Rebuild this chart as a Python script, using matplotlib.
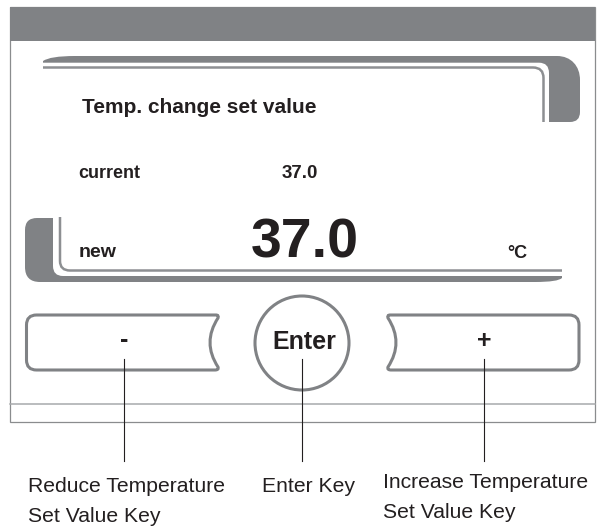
import matplotlib.pyplot as plt
from matplotlib.path import Path
from matplotlib.patches import PathPatch, Rectangle, Circle

# texts shown on the display
title_text = "Temp. change set value"
current_label = "current"
current_value = "37.0"
new_label = "new"
new_value = "37.0"
unit_text = "°C"
key_texts = ["-", "Enter", "+"]

# callout labels under the keys (one entry per line)
key_x = [124, 302, 484]
callout_lines = [
    ["Reduce Temperature", "Set Value Key"],
    ["Enter Key"],
    ["Increase Temperature", "Set Value Key"],
]
callout_x = [28, 262, 383]
callout_base = [492, 492, 488]

dark = "#231f20"
gray = "#808285"
light = "#a7a9ac"
bold_font = ["Liberation Sans", "DejaVu Sans"]
label_font = ["Liberation Sans", "DejaVu Sans"]

M, L, Q, C, Z = Path.MOVETO, Path.LINETO, Path.CURVE3, Path.CURVE4, Path.CLOSEPOLY


def shape(ax, pts, codes, **kw):
    ax.add_patch(PathPatch(Path(pts, codes), **kw))


fig = plt.figure(figsize=(5.97, 5.27), dpi=100)
ax = fig.add_axes([0, 0, 1, 1])
ax.set_xlim(0, 597)
ax.set_ylim(527, 0)
ax.axis("off")

# housing
ax.add_patch(Rectangle((10, 7), 585, 415, fill=False, ec="#8a8c8e", lw=0.9))
ax.add_patch(Rectangle((10, 7), 585, 34, fc=gray, ec="none"))
ax.plot([10, 595], [404, 404], color=light, lw=1.1)

# upper bracket of the display
shape(ax,
      [(43, 62.7), (43, 61), (50, 56), (75, 56), (557, 56),
       (571, 56), (580, 66), (580, 80), (580, 112), (580, 122), (570, 122),
       (549, 122), (549, 73), (549, 62.7), (539, 62.7), (43, 62.7), (43, 62.7)],
      [M, L, Q, Q, L, C, C, C, L, Q, Q, L, L, Q, Q, L, Z],
      fc=gray, ec="none")
shape(ax,
      [(43, 67.5), (533, 67.5), (543.5, 67.5), (543.5, 78), (543.5, 122)],
      [M, L, Q, Q, L], fill=False, ec="#8d8f92", lw=1.8)

# lower bracket of the display
shape(ax,
      [(25, 230), (25, 218), (37, 218), (53, 218), (53, 266), (53, 276), (63, 276),
       (562, 276), (562, 278), (558, 282), (535, 282), (40, 282), (25, 282), (25, 267),
       (25, 230), (25, 230)],
      [M, Q, Q, L, L, Q, Q, L, L, Q, Q, L, Q, Q, L, Z],
      fc=gray, ec="none")
shape(ax,
      [(60, 217), (60, 261), (60, 270.5), (70, 270.5), (562, 270.5)],
      [M, L, Q, Q, L], fill=False, ec="#8d8f92", lw=1.8)

# keys
shape(ax,
      [(36.5, 315), (216, 315), (219, 315), (218, 318), (202, 342.5), (218, 367),
       (219, 370), (215, 370), (36.5, 370), (26.5, 370), (26.5, 360), (26.5, 325),
       (26.5, 315), (36.5, 315), (36.5, 315)],
      [M, L, Q, Q, Q, Q, Q, Q, L, Q, Q, L, Q, Q, Z],
      fill=False, ec=gray, lw=2.2)
shape(ax,
      [(569, 315), (390, 315), (387, 315), (388, 318), (404, 342.5), (388, 367),
       (387, 370), (391, 370), (569, 370), (579, 370), (579, 360), (579, 325),
       (579, 315), (569, 315), (569, 315)],
      [M, L, Q, Q, Q, Q, Q, Q, L, Q, Q, L, Q, Q, Z],
      fill=False, ec=gray, lw=2.2)
ax.add_patch(Circle((302, 343), 47, fill=False, ec=gray, lw=2.2))

# display texts
ax.text(82, 113, title_text, fontsize=15, fontweight="bold", family=bold_font, color=dark)
ax.text(78, 178, current_label, fontsize=13, fontweight="bold", family=bold_font, color=dark)
ax.text(282, 178, current_value, fontsize=13.5, fontweight="bold", family=bold_font, color=dark)
ax.text(79, 257, new_label, fontsize=14, fontweight="bold", family=bold_font, color=dark)
ax.text(251, 257, new_value, fontsize=40, fontweight="bold", family=bold_font, color=dark)
ax.text(507, 258, unit_text, fontsize=13, fontweight="bold", family=bold_font, color=dark)

ax.text(key_x[0], 340, key_texts[0], fontsize=18, fontweight="bold", family=bold_font,
        color=dark, ha="center", va="center")
ax.text(304.5, 349, key_texts[1], fontsize=18, fontweight="bold", family=bold_font,
        color=dark, ha="center")
ax.text(key_x[2], 341, key_texts[2], fontsize=18, fontweight="bold", family=bold_font,
        color=dark, ha="center", va="center")

# leader lines and callouts
for x in key_x:
    ax.plot([x, x], [359, 461], color=dark, lw=0.8)

for lines, x, y0 in zip(callout_lines, callout_x, callout_base):
    for i, s in enumerate(lines):
        ax.text(x, y0 + i * 30, s, fontsize=15.2, family=label_font, color=dark)

fig.savefig("out.png", dpi=100)
